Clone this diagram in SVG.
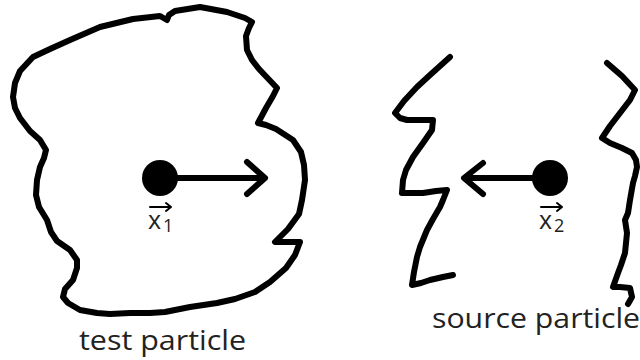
<svg xmlns="http://www.w3.org/2000/svg" width="640" height="360" viewBox="0 0 640 360">
<style>
.outline{fill:none;stroke:#000;stroke-width:6;stroke-linejoin:round;stroke-linecap:round}
.arrow{fill:none;stroke:#000;stroke-width:6;stroke-linecap:round;stroke-linejoin:round}
.lbl{font-family:"Open Sans","Noto Sans",sans-serif;fill:#222}
</style>
<rect width="640" height="360" fill="#fff"/>
<g id="test-particle">
<polyline class="outline" points="13,97 15,83 20,71 33,57 50,49 70,40 100,27 133,19 160,16 167,20 169,15 175,11 200,7 227,12 245,18 252,22 249,28 246,36 247,50 252,60 259,69 277,88 273,96 266,108 258,123 266,125 276,129 293,140 301,152 304,165 305,180 302,200 299,214 288,229 275,242 300,242 295,255 286,268 270,282 255,292 235,299 217,303 190,307 165,312 150,313 130,313 110,314 97,313 80,310 68,303 63,297 65,289 73,280 77,268 77,260 70,250 57,241 51,232 47,220 39,207 36,195 37,180 40,167 44,158 46,150 40,140 30,131 20,118 15,108 13,97"/>
<circle cx="160" cy="178" r="18" fill="#000"/>
<text class="lbl" x="148" y="229" font-size="25">x</text>
<text class="lbl" x="163" y="232" font-size="18">1</text>
<path class="arrow" d="M150 207 H171 M166 203 L171 207 L166 211" style="stroke-width:2"/>
<text class="lbl" x="79" y="350" font-size="27" textLength="167" lengthAdjust="spacingAndGlyphs">test particle</text>
</g>
<g id="source-particle">
<polyline class="outline" points="450,57 430,75 417,87 404,101 395,113 400,118 407,120 420,120 433,120 432,130 423,143 413,157 406,170 403,180 402,193 413,193 423,193 436,191 447,190 443,200 440,207 433,219 427,230 420,247 417,257 414,272 412,285 421,283 430,280 443,277 453,275"/>
<polyline class="outline" points="607,63 622,76 635,90 630,100 620,113 610,126 602,138 610,143 622,148 632,153 636,160 637,167 635,176 633,183 630,200 628,213 625,220 627,233 625,253 621,265 618,273 613,287 620,287 630,288 632,297 628,304"/>
<circle cx="550" cy="178" r="18" fill="#000"/>
<text class="lbl" x="539" y="229" font-size="25">x</text>
<text class="lbl" x="554" y="232" font-size="18">2</text>
<path class="arrow" d="M541 207 H562 M557 203 L562 207 L557 211" style="stroke-width:2"/>
<text class="lbl" x="432" y="328" font-size="27" textLength="208" lengthAdjust="spacingAndGlyphs">source particle</text>
</g>
<g id="connectors">
<path class="arrow" d="M160 178 H264 M247 162 L265 178 L247 194"/>
<path class="arrow" d="M550 178 H465 M483 163 L464 178 L483 194"/>
</g>
</svg>
